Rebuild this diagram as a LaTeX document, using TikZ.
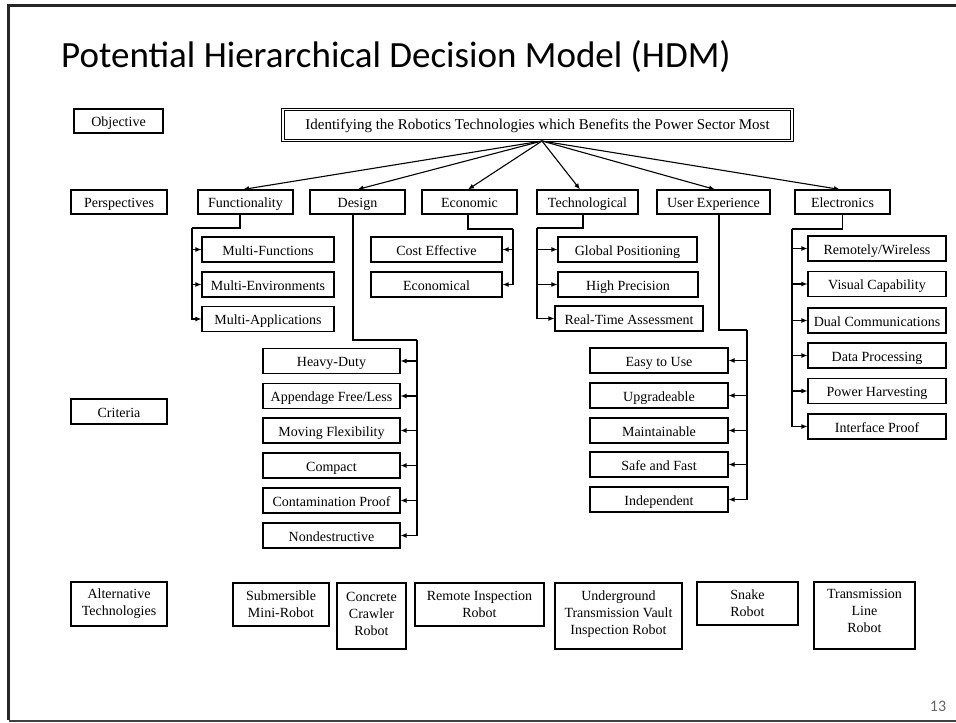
\documentclass[tikz,border=0pt]{standalone}
\usepackage{fontspec}
\setmainfont{Liberation Serif}
\newfontfamily\slidefont{Carlito}
\usetikzlibrary{arrows.meta,calc}

\begin{document}
\begin{tikzpicture}[x=1pt,y=-1pt,
  mbox/.style={draw, line width=1.1pt, inner sep=0pt, minimum height=25pt,
    align=center, font=\fontsize{14}{17}\selectfont},
  box/.style={mbox, text height=11pt, text depth=0pt},
  link/.style={line width=1.1pt},
  arr/.style={link, -{Latex[length=6pt,width=5pt]}},
  frame/.style={line width=3pt, black!85}]

\useasboundingbox (0,0) rectangle (956,723);

% slide frame and title
\draw[frame] (956,5.5) -- (8.5,5.5) -- (8.5,720);
\draw[line width=2pt, black!75] (8.5,720.5) -- (956,720.5);
\node[anchor=base west, inner sep=0pt, font=\slidefont\fontsize{37}{40}\selectfont]
  (title) at (61,67) {Potential Hierarchical Decision Model (HDM)};
\node[font=\slidefont\fontsize{16}{18}\selectfont, text=black!60] (pnum) at (938,706) {13};

% level labels
\node[box, minimum width=89pt, minimum height=24pt] (labObj) at (118.5,121) {Objective};
\node[box, minimum width=96pt, minimum height=24pt] (labPer) at (119,202) {Perspectives};
\node[box, minimum width=96pt] (labCri) at (119,411.5) {Criteria};
\node[mbox, minimum width=96pt, minimum height=44pt] (labAlt) at (119,604) {Alternative\\Technologies};

% objective
\node[box, line width=0.8pt, double, double distance=1.6pt, minimum width=509pt, minimum height=31pt,
  font=\fontsize{15}{17}\selectfont, text height=10pt, text depth=2pt]
  (obj) at (537.5,125) {Identifying the Robotics Technologies which Benefits the Power Sector Most};
\coordinate (src) at (542,141);

% perspectives
\begin{scope}[every node/.style={box, minimum height=24pt}]
\node[minimum width=95pt]  (func)   at (245.5,202) {Functionality};
\node[minimum width=95pt]  (design) at (357.5,202) {Design};
\node[minimum width=95pt]  (econ)   at (469.5,202) {Economic};
\node[minimum width=101pt] (tech)   at (587.5,202) {Technological};
\node[minimum width=113pt] (ue)     at (713.5,202) {User Experience};
\node[minimum width=95pt]  (elec)   at (842.5,202) {Electronics};
\end{scope}

\draw[arr] (src) -- ($(func.north)+(-2.5,0)$);
\draw[arr] (src) -- (design.north);
\draw[arr] (src) -- ($(econ.north)+(-1.5,0)$);
\draw[arr] (src) -- ($(tech.north)+(-7.5,0)$);
\draw[arr] (src) -- ($(ue.north)+(1.5,0)$);
\draw[arr] (src) -- ($(elec.north)+(-2.5,0)$);

% functionality criteria
\node[box, minimum width=132pt] (mfun) at (268,249.5) {Multi-Functions};
\node[box, minimum width=132pt] (menv) at (268,284.5) {Multi-Environments};
\node[box, minimum width=132pt] (mapp) at (268,319)   {Multi-Applications};
\coordinate (fT) at (192,228);
\draw[link] ($(func.south)+(-5.5,0)$) |- (fT);
\foreach \n in {mfun,menv,mapp} \draw[arr] (fT) |- (\n.west);

% design criteria
\node[box, minimum width=137pt] (heavy)   at (331.5,361)   {Heavy-Duty};
\node[box, minimum width=137pt] (append)  at (331.5,396)   {Appendage Free/Less};
\node[box, minimum width=137pt] (moving)  at (331.5,430.5) {Moving Flexibility};
\node[box, minimum width=137pt] (compact) at (331.5,465.5) {Compact};
\node[box, minimum width=137pt] (contam)  at (331.5,500.5) {Contamination Proof};
\node[box, minimum width=137pt] (nondes)  at (331.5,535.5) {Nondestructive};
\coordinate (dT) at (417,340);
\draw[link] ($(design.south)+(-4.5,0)$) |- (dT);
\foreach \n in {heavy,append,moving,compact,contam,nondes} \draw[arr] (dT) |- (\n.east);

% economic criteria
\node[box, minimum width=131pt] (cost)  at (436.5,249.5) {Cost Effective};
\node[box, minimum width=131pt] (econl) at (436.5,284.5) {Economical};
\coordinate (eT) at (513,229);
\draw[link] ($(econ.south)+(-1.5,0)$) |- (eT);
\foreach \n in {cost,econl} \draw[arr] (eT) |- (\n.east);

% technological criteria
\node[box, minimum width=139pt] (gps)   at (627.5,249.5) {Global Positioning};
\node[box, minimum width=140pt] (hprec) at (628,284.5)   {High Precision};
\node[box, minimum width=148pt] (rta)   at (629,318.5)   {Real-Time Assessment};
\coordinate (tT) at (537,228);
\draw[link] ($(tech.south)+(-4.5,0)$) |- (tT);
\foreach \n in {gps,hprec,rta} \draw[arr] (tT) |- (\n.west);

% user experience criteria
\node[box, minimum width=138pt] (easy)  at (659,360.5) {Easy to Use};
\node[box, minimum width=138pt] (upg)   at (659,395.5) {Upgradeable};
\node[box, minimum width=138pt] (maint) at (659,430.5) {Maintainable};
\node[box, minimum width=138pt] (safe)  at (659,464.5) {Safe and Fast};
\node[box, minimum width=138pt] (indep) at (659,499.5) {Independent};
\coordinate (uT) at (747,330);
\draw[link] ($(ue.south)+(5.5,0)$) |- (uT);
\foreach \n in {easy,upg,maint,safe,indep} \draw[arr] (uT) |- (\n.east);

% electronics criteria
\node[box, minimum width=138pt] (remote) at (877,248.5) {Remotely/Wireless};
\node[box, minimum width=138pt] (visual) at (877,284)   {Visual Capability};
\node[box, minimum width=138pt] (dual)   at (877,320.5) {Dual Communications};
\node[box, minimum width=138pt] (data)   at (877,355.5) {Data Processing};
\node[box, minimum width=138pt] (power)  at (877,391)   {Power Harvesting};
\node[box, minimum width=138pt] (iface)  at (877,426.5) {Interface Proof};
\coordinate (lT) at (792,229);
\draw[link] (elec.south) |- (lT);
\foreach \n in {remote,visual,dual,data,power,iface} \draw[arr] (lT) |- (\n.west);

% alternatives
\node[mbox, minimum width=96pt,  minimum height=43pt] (sub)   at (281,604.5)   {Submersible\\Mini-Robot};
\node[mbox, minimum width=69pt,  minimum height=66pt] (conc)  at (371.5,616)   {Concrete\\Crawler\\Robot\rule[-4pt]{0pt}{4pt}};
\node[mbox, minimum width=129pt, minimum height=43pt] (rem)   at (479.5,604.5) {Remote Inspection\\Robot};
\node[mbox, minimum width=127pt, minimum height=66pt] (ugv)   at (618.5,616)   {Underground\\Transmission Vault\\Inspection Robot\rule[-7pt]{0pt}{7pt}};
\node[mbox, minimum width=101pt, minimum height=43pt] (snake) at (747.5,603.5) {Snake\\Robot};
\node[mbox, minimum width=101pt, minimum height=67pt] (tlr)   at (864.5,615.5) {Transmission\\Line\\Robot\rule[-9pt]{0pt}{9pt}};

\end{tikzpicture}
\end{document}
